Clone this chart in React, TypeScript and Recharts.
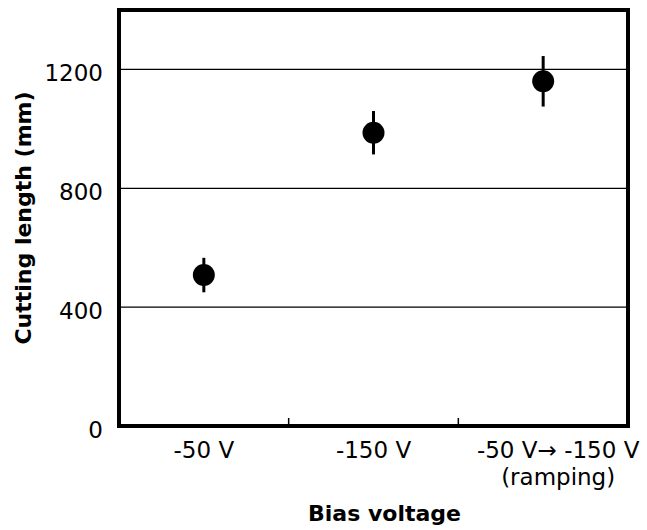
import {
  CartesianGrid,
  ComposedChart,
  ErrorBar,
  Label,
  ReferenceArea,
  Scatter,
  XAxis,
  YAxis,
} from 'recharts';

const categories = ['-50 V', '-150 V', '-50 V\u2192 -150 V'];
const subLabels = ['', '', '(ramping)'];
const cuttingLength = [508, 987, 1160];
const errors = [58, 73, 85];
const yTicks = [0, 400, 800, 1200];
const Y_MAX = 1400;

const FONT = '"DejaVu Sans", sans-serif';

const chartData = categories.map((name, i) => ({
  name,
  pos: i + 0.5,
  length: cuttingLength[i],
  err: errors[i],
}));

// labels sit at category centres, small marks between categories
const xTicks = [
  ...categories.map((_, i) => i + 0.5),
  ...categories.slice(1).map((_, i) => i + 1),
];

const XTick = ({ x, y, payload }: any) => {
  const v = payload.value as number;
  if (Number.isInteger(v)) {
    return <line x1={x} x2={x} y1={y - 2} y2={y - 8} stroke="#000" strokeWidth={1.5} />;
  }
  const i = Math.floor(v);
  const sub = subLabels[i];
  const shift = sub ? 15 : 0;
  return (
    <g>
      <text x={x + shift} y={y + 32} textAnchor="middle" fontFamily={FONT} fontSize={23} fill="#000">
        {categories[i]}
      </text>
      {sub && (
        <text x={x + shift} y={y + 59} textAnchor="middle" fontFamily={FONT} fontSize={23} fill="#000">
          {sub}
        </text>
      )}
    </g>
  );
};

const YTick = ({ x, y, payload }: any) => (
  <text x={x} y={y + 12} textAnchor="end" fontFamily={FONT} fontSize={23} fill="#000">
    {payload.value}
  </text>
);

const YTitle = ({ viewBox }: any) => {
  const cx = viewBox.x + 23;
  const cy = viewBox.y + viewBox.height / 2;
  return (
    <text
      x={cx}
      y={cy}
      dy="0.36em"
      transform={`rotate(-90, ${cx}, ${cy})`}
      textAnchor="middle"
      fontFamily={FONT}
      fontWeight="bold"
      fontSize={22}
      fill="#000"
    >
      Cutting length (mm)
    </text>
  );
};

const XTitle = ({ viewBox }: any) => (
  <text
    x={viewBox.x + viewBox.width / 2 + 11}
    y={viewBox.y + 95}
    textAnchor="middle"
    fontFamily={FONT}
    fontWeight="bold"
    fontSize={22}
    fill="#000"
  >
    Bias voltage
  </text>
);

const Dot = ({ cx, cy }: any) => <circle cx={cx} cy={cy} r={11} fill="#000" />;

export default function App() {
  return (
    <div style={{ position: 'absolute', left: 0, top: 0, background: '#fff' }}>
      <ComposedChart
        width={647}
        height={530}
        data={chartData}
        margin={{ top: 10, right: 19, bottom: 0, left: 0 }}
      >
        <CartesianGrid vertical={false} stroke="#000" strokeWidth={1.3} />
        <XAxis
          dataKey="pos"
          type="number"
          domain={[0, categories.length]}
          ticks={xTicks}
          interval={0}
          height={104}
          axisLine={false}
          tickLine={false}
          tickSize={0}
          tickMargin={0}
          tick={<XTick />}
        >
          <Label content={<XTitle />} />
        </XAxis>
        <YAxis
          type="number"
          domain={[0, Y_MAX]}
          ticks={yTicks}
          interval={0}
          allowDataOverflow
          width={119}
          axisLine={false}
          tickLine={false}
          tickSize={0}
          tickMargin={16}
          tick={<YTick />}
        >
          <Label content={<YTitle />} />
        </YAxis>
        <ReferenceArea
          x1={0}
          x2={categories.length}
          y1={0}
          y2={Y_MAX}
          fill="none"
          fillOpacity={0}
          stroke="#000"
          strokeWidth={4}
        />
        <Scatter dataKey="length" fill="#000" shape={<Dot />} isAnimationActive={false}>
          <ErrorBar dataKey="err" direction="y" width={0} stroke="#000" strokeWidth={3} />
        </Scatter>
      </ComposedChart>
    </div>
  );
}
